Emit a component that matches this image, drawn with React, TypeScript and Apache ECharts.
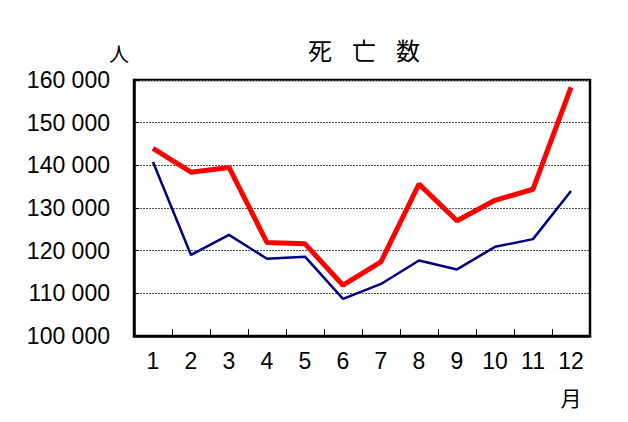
import React, { useEffect, useRef } from "react";
import * as echarts from "echarts";

const months = ["1", "2", "3", "4", "5", "6", "7", "8", "9", "10", "11", "12"];
const redSeries = [144000, 138400, 139500, 121900, 121600, 111900, 117400, 135600, 127000, 131800, 134400, 158300];
const blueSeries = [140800, 119000, 123700, 118100, 118600, 108700, 112200, 117700, 115600, 120900, 122700, 134000];
const yMin = 100000;
const yMax = 160000;
const yStep = 10000;
const titleChars = ["死", "亡", "数"];
const yUnit = "人";
const xUnit = "月";

const fmt = (v: number) => {
  const s = String(Math.round(v));
  return s.replace(/\B(?=(\d{3})+(?!\d))/g, " ");
};

export default function App() {
  const ref = useRef<HTMLDivElement>(null);
  useEffect(() => {
    document.body.style.margin = "0";
    const chart = echarts.init(ref.current!, null, { renderer: "svg" });
    const font = "Liberation Sans";
    const cjk = "Noto Sans CJK JP";
    chart.setOption({
      animation: false,
      backgroundColor: "#ffffff",
      grid: {
        left: 134,
        top: 80,
        width: 456,
        height: 256,
        show: true,
        borderColor: "#000",
        borderWidth: 2.5,
        backgroundColor: "transparent",
      },
      graphic: [
        ...titleChars.map((c, i) => ({
          type: "text",
          x: 320 + i * 44,
          y: 49,
          style: { text: c, fontSize: 24, fontFamily: cjk, fill: "#000", align: "center", verticalAlign: "middle" },
        })),
        {
          type: "text",
          x: 119,
          y: 53,
          style: { text: yUnit, fontSize: 20, fontFamily: cjk, fill: "#000", align: "center", verticalAlign: "middle" },
        },
        {
          type: "text",
          x: 571,
          y: 397,
          style: { text: xUnit, fontSize: 21, fontFamily: cjk, fill: "#000", align: "center", verticalAlign: "middle" },
        },
      ],
      xAxis: {
        type: "category",
        data: months,
        boundaryGap: true,
        axisLine: { show: true, lineStyle: { color: "#000", width: 2.5 } },
        axisTick: { show: true, inside: true, length: 7, lineStyle: { color: "#000", width: 1 } },
        axisLabel: { color: "#000", fontSize: 23, fontFamily: font, margin: 13, interval: 0 },
        splitLine: { show: false },
      },
      yAxis: {
        type: "value",
        min: yMin,
        max: yMax,
        interval: yStep,
        axisLine: { show: true, lineStyle: { color: "#000", width: 2.5 } },
        axisTick: { show: true, inside: true, length: 5, lineStyle: { color: "#000", width: 1 } },
        axisLabel: { color: "#000", fontSize: 23, fontFamily: font, margin: 24, formatter: (v: number) => fmt(v) },
        splitLine: { show: true, lineStyle: { color: "#555", width: 1, type: [2, 1] } },
      },
      series: [
        {
          type: "line",
          data: blueSeries,
          symbol: "none",
          lineStyle: { color: "#000080", width: 2.5 },
          z: 2,
        },
        {
          type: "line",
          data: redSeries,
          symbol: "none",
          lineStyle: { color: "#ff0000", width: 5 },
          z: 3,
        },
      ],
    });
    return () => chart.dispose();
  }, []);
  return <div ref={ref} style={{ width: 628, height: 422 }} />;
}
